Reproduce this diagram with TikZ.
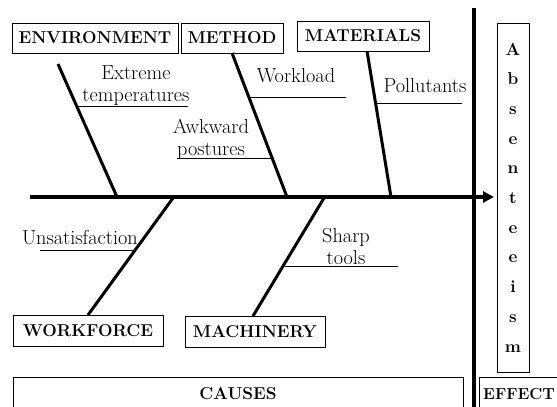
\documentclass[tikz,border=0pt]{standalone}
\usepackage{fontspec}
\usetikzlibrary{arrows.meta}
\begin{document}
\begin{tikzpicture}[x=1pt,y=-1pt,
  catbox/.style={draw, line width=0.8pt, inner sep=0pt, font=\bfseries\fontsize{17.2}{20}\selectfont},
  lbl/.style={align=center, inner sep=0pt, font=\fontsize{20.3}{22}\selectfont},
  bone/.style={line width=3pt},
  sub/.style={line width=0.9pt},
  spine/.style={line width=3.5pt}]
\useasboundingbox (0,0) rectangle (557,407);
\clip (0,0) rectangle (557,407);
% category boxes
\node[catbox, minimum width=166pt, minimum height=30pt] (env) at (95,38) {ENVIRONMENT};
\node[catbox, minimum width=102pt, minimum height=30pt] (meth) at (232,38) {METHOD};
\node[catbox, minimum width=132pt, minimum height=30pt] (mat) at (363,36) {MATERIALS};
\node[catbox, minimum width=150pt, minimum height=31pt] (work) at (88,330.5) {WORKFORCE};
\node[catbox, minimum width=140pt, minimum height=31pt] (mach) at (255,331.5) {MACHINERY};
% effect
\node[catbox, minimum width=32pt, minimum height=349pt, align=center,
      font=\bfseries\fontsize{17.2}{29.7}\selectfont] (absent) at (513,197.5)
  {A\\b\\s\\e\\n\\t\\e\\e\\i\\s\\m};
\node[catbox, minimum width=450pt, minimum height=36pt, anchor=north west] (causes) at (13,377) {};
\node[font=\bfseries\fontsize{17.2}{20}\selectfont, inner sep=0pt] (causestxt) at (238,394) {CAUSES};
\node[catbox, minimum width=100pt, minimum height=36pt, anchor=north west] (effect) at (479,377) {};
\node[font=\bfseries\fontsize{16}{20}\selectfont, inner sep=0pt, anchor=west] (effecttxt) at (483,394) {EFFECT};
% vertical divider
\coordinate (divtop) at (474,8);
\coordinate (divbot) at (474,410);
\draw[spine] (divtop) -- (divbot);
% spine
\coordinate (sL) at (30,197);
\coordinate (sR) at (494,197);
\draw[spine, -{Triangle[length=11pt,width=11pt]}] (sL) -- (sR);
% bones
\coordinate (envtop) at (58,64);
\coordinate (envend) at (117,197);
\coordinate (methtop) at (232,53);
\coordinate (methend) at (287,197);
\coordinate (mattop) at (367,51);
\coordinate (matend) at (391,197);
\coordinate (workend) at (173,198);
\coordinate (workbot) at (88,315);
\coordinate (machend) at (324,198);
\coordinate (machbot) at (253,316);
\draw[bone] (envtop) -- (envend);
\draw[bone] (methtop) -- (methend);
\draw[bone] (mattop) -- (matend);
\draw[bone] (workend) -- (workbot);
\draw[bone] (machend) -- (machbot);
% sub-causes
\node[lbl] (t1) at (136,86) {Extreme\\temperatures};
\coordinate (u1a) at (77,106); \coordinate (u1b) at (188,106);
\draw[sub] (u1a) -- (u1b);
\node[lbl] (t2) at (296,76) {Workload};
\coordinate (u2a) at (249,97); \coordinate (u2b) at (346,97);
\draw[sub] (u2a) -- (u2b);
\node[lbl] (t3) at (211,139) {Awkward\\postures};
\coordinate (u3a) at (177,158); \coordinate (u3b) at (272,158);
\draw[sub] (u3a) -- (u3b);
\node[lbl] (t4) at (425,86) {Pollutants};
\coordinate (u4a) at (376,103); \coordinate (u4b) at (462,103);
\draw[sub] (u4a) -- (u4b);
\node[lbl] (t5) at (80,238) {Unsatisfaction};
\coordinate (u5a) at (40,250); \coordinate (u5b) at (136,250);
\draw[sub] (u5a) -- (u5b);
\node[lbl] (t6) at (346,246) {Sharp\\tools};
\coordinate (u6a) at (285,266); \coordinate (u6b) at (398,266);
\draw[sub] (u6a) -- (u6b);
\end{tikzpicture}
\end{document}
